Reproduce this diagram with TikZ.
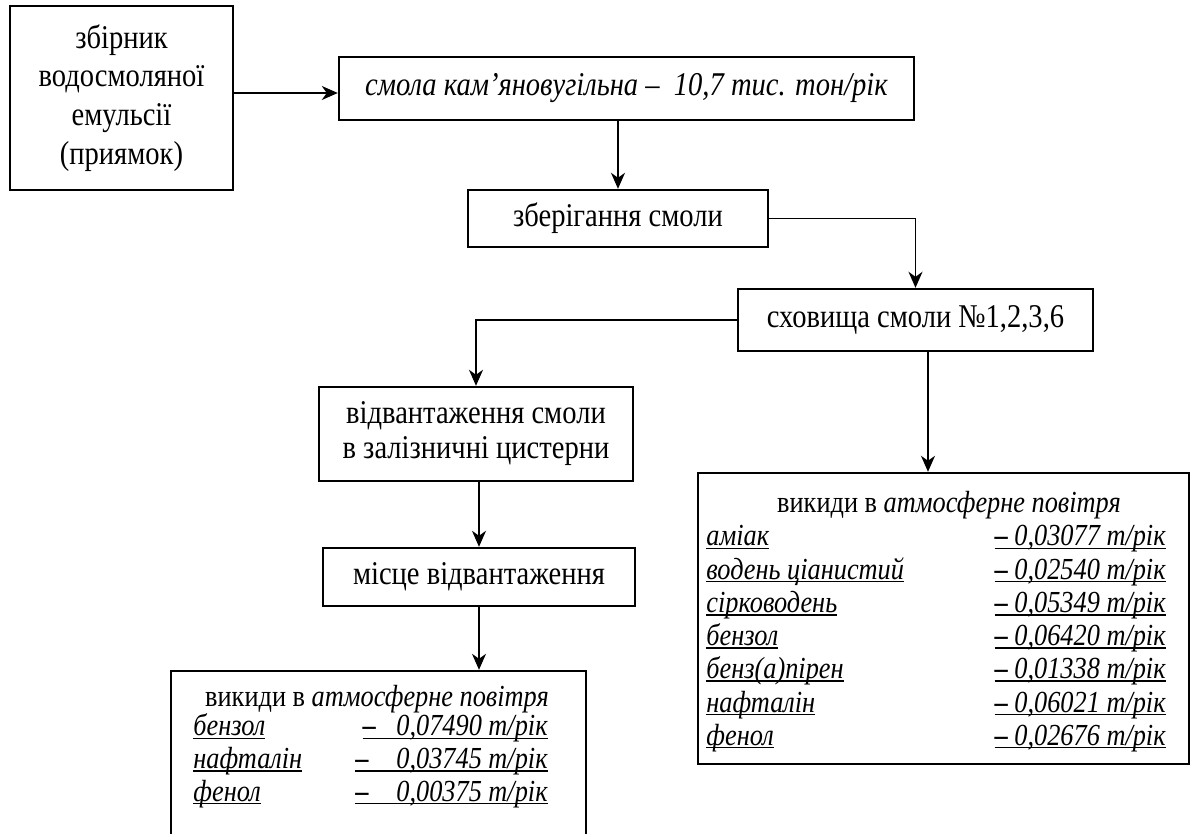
\documentclass[tikz,border=0pt]{standalone}
\usepackage{fontspec}
\setmainfont[FakeStretch=0.86]{Liberation Serif}
\usetikzlibrary{arrows.meta}
\newcommand\wul[1]{\setbox0\hbox{#1}\rlap{\rule[-1.6pt]{\wd0}{0.75pt}}\box0}
\newcommand\bdash{{\upshape\bfseries –}}
\begin{document}
\begin{tikzpicture}[x=0.5pt,y=-0.5pt,
  box/.style={draw,line width=1.2pt,inner sep=0pt,align=center,font=\fontsize{16.6}{19.35}\selectfont},
  arr/.style={line width=0.8pt,-{Stealth[length=8pt,width=7pt,inset=2.5pt]}},
  thinarr/.style={line width=0.6pt,-{Stealth[length=8pt,width=7pt,inset=2.5pt]}},
  txt/.style={inner sep=0pt,font=\fontsize{15.3}{18}\selectfont}]
\clip (0,0) rectangle (1191,834);
\fill[white] (0,0) rectangle (1191,834);
% boxes
\node[box,minimum width=111.5pt,minimum height=92pt] (A) at (121.5,98)
  {збірник\\водосмоляної\\емульсії\\(приямок)};
\node[box,minimum width=287.5pt,minimum height=31.5pt] (B) at (626.5,88.5)
  {\itshape смола кам’яновугільна –\ \ 10,7 тис. тон/рік};
\node[box,minimum width=150pt,minimum height=28.5pt] (C) at (618,218.5)
  {зберігання смоли};
\node[box,minimum width=177.5pt,minimum height=31pt] (D) at (915.5,320)
  {сховища смоли №1,2,3,6};
\node[box,minimum width=157pt,minimum height=47pt,font=\fontsize{16.6}{17.5}\selectfont] (E) at (476,434)
  {відвантаження смоли\\в залізничні цистерни};
\node[box,minimum width=156pt,minimum height=29pt] (G) at (479,577)
  {місце відвантаження};
\node[box,minimum width=245.5pt,minimum height=145.5pt] (F) at (943.5,618.5) {};
\node[box,minimum width=207.5pt,minimum height=99pt] (H) at (378.5,770) {};
% connectors
\draw[arr] (A.east |- 0,93) -- (B.west |- 0,93);
\draw[arr] (B.south -| C.north) -- (C.north);
\draw[arr] (C.east) -| (D.north);
\draw[arr] (D.west) -| (E.north);
\draw[arr] (D.south -| 928,0) -- (F.north -| 928,0);
\draw[thinarr] (E.south -| G.north) -- (G.north);
\draw[thinarr] (G.south) -- (G.south |- H.north);
% emissions at storage
\node[txt,anchor=base] (Fh) at (949,513) {викиди в \textit{атмосферне повітря}};
\foreach \i/\a/\b in {0/аміак/0{,}03077,1/водень ціанистий/0{,}02540,2/сірководень/0{,}05349,3/бензол/0{,}06420,4/бенз(а)пірен/0{,}01338,5/нафталін/0{,}06021,6/фенол/0{,}02676}{
  \node[txt,anchor=base west] (Fl\i) at (706,546+33.2*\i) {\itshape\wul{\a}};
  \node[txt,anchor=base east] (Fr\i) at (1166,546+33.2*\i) {\itshape\wul{\bdash\ \b\ т/рік}};
}
% emissions at loading
\node[txt,anchor=base] (Hh) at (377,707) {викиди в \textit{атмосферне повітря}};
\foreach \i/\a/\b/\y/\s in {0/бензол/0{,}07490/736/0.67em,1/нафталін/0{,}03745/768.5/0.91em,2/фенол/0{,}00375/801/0.91em}{
  \node[txt,anchor=base west] (Hl\i) at (193,\y) {\itshape\wul{\a}};
  \node[txt,anchor=base east] (Hr\i) at (548,\y) {\itshape\wul{\bdash\hspace{\s}\b\ т/рік}};
}
\end{tikzpicture}
\end{document}
